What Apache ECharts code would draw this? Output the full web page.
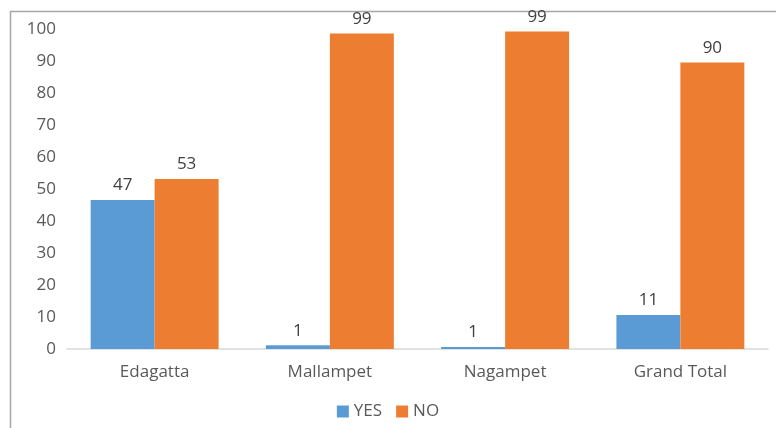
<!DOCTYPE html>
<html>
<head>
<meta charset="utf-8">
<script src="https://cdn.jsdelivr.net/npm/echarts@6/dist/echarts.min.js"></script>
<style>html,body{margin:0;padding:0;background:#fff;}#c{width:776px;height:428px;}</style>
</head>
<body>
<div id="c"></div>
<script>
var categories = ['Edagatta', 'Mallampet', 'Nagampet', 'Grand Total'];
var yesValues = [46.6, 1.2, 0.6, 10.6];
var noValues = [53.1, 98.6, 99.2, 89.5];
var seriesNames = ['YES', 'NO'];
var yTicks = { min: 0, max: 100, interval: 10 };

var font = 'Open Sans';
var chart = echarts.init(document.getElementById('c'), null, { renderer: 'canvas' });
var labelCfg = {
  show: true, position: 'top', distance: 6,
  color: '#404040', fontSize: 17, fontFamily: font,
  formatter: function (p) { return Math.round(p.value); }
};
chart.setOption({
  animation: false,
  backgroundColor: '#fff',
  graphic: [{
    type: 'rect', shape: { x: 10.5, y: 11.5, width: 900, height: 600 },
    style: { fill: 'none', stroke: '#a6a6a6', lineWidth: 1.5 }, silent: true
  }],
  grid: { left: 67, right: 8, top: 29, bottom: 79 },
  legend: {
    data: seriesNames, bottom: 3, left: 'center',
    itemWidth: 12, itemHeight: 12, itemGap: 14,
    icon: 'rect',
    textStyle: { color: '#595959', fontSize: 17, fontFamily: font }
  },
  xAxis: {
    type: 'category', data: categories,
    axisLine: { lineStyle: { color: '#d9d9d9', width: 1.5 } },
    axisTick: { show: false },
    axisLabel: { color: '#595959', fontSize: 17, fontFamily: font, margin: 15 }
  },
  yAxis: {
    type: 'value', min: yTicks.min, max: yTicks.max, interval: yTicks.interval,
    axisLine: { show: false }, axisTick: { show: false },
    splitLine: { show: false },
    axisLabel: { color: '#595959', fontSize: 17, fontFamily: font, margin: 11 }
  },
  series: [
    { name: seriesNames[0], type: 'bar', data: yesValues, barWidth: '36.5%', barGap: '0%',
      itemStyle: { color: '#5b9bd5' }, label: labelCfg },
    { name: seriesNames[1], type: 'bar', data: noValues, barWidth: '36.5%', barGap: '0%',
      itemStyle: { color: '#ed7d31' }, label: labelCfg }
  ]
});
</script>
</body>
</html>
